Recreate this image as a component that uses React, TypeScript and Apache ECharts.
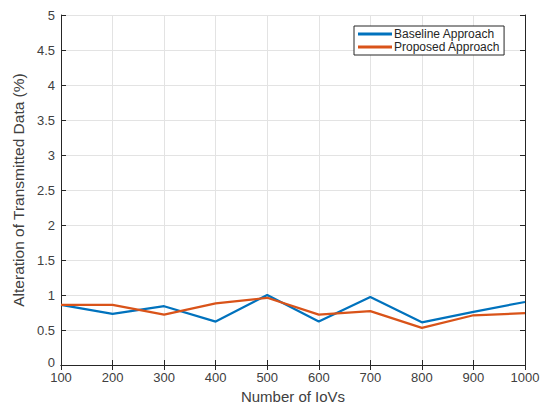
import React, { useEffect, useRef } from "react";
import * as echarts from "echarts";

const xValues = [100, 200, 300, 400, 500, 600, 700, 800, 900, 1000];
const baseline = [0.86, 0.73, 0.84, 0.62, 1.0, 0.62, 0.97, 0.61, 0.76, 0.9];
const proposed = [0.86, 0.86, 0.72, 0.88, 0.96, 0.72, 0.77, 0.53, 0.71, 0.74];
const seriesNames = ["Baseline Approach", "Proposed Approach"];

const FONT = "Liberation Sans, Arial, Helvetica, sans-serif";

export default function App() {
  const ref = useRef<HTMLDivElement>(null);
  useEffect(() => {
    const chart = echarts.init(ref.current!, null, { renderer: "svg" });
    const pair = (ys: number[]) => xValues.map((x, i) => [x, ys[i]]);
    const axisLine = { show: true, lineStyle: { color: "#262626", width: 1 } };
    const tick = { show: true, inside: true, length: 5, lineStyle: { color: "#262626" } };
    chart.setOption({
      animation: false,
      backgroundColor: "#ffffff",
      grid: {
        left: 61,
        right: 17,
        top: 15,
        bottom: 37,
        containLabel: false,
        outerBoundsMode: "none",
      },
      legend: {
        orient: "vertical",
        left: 354,
        top: 26,
        itemWidth: 34,
        itemHeight: 3,
        itemGap: 1,
        padding: [2, 4, 2, 4],
        borderColor: "#262626",
        borderWidth: 1,
        backgroundColor: "#ffffff",
        icon: "rect",
        textStyle: { fontFamily: FONT, fontSize: 12, color: "#262626", padding: [0, 0, 0, -3] },
        data: seriesNames,
      },
      xAxis: [
        {
          type: "value",
          min: 100,
          max: 1000,
          interval: 100,
          name: "Number of IoVs",
          nameLocation: "middle",
          nameGap: 14,
          nameTextStyle: { fontFamily: FONT, fontSize: 15, color: "#404040" },
          axisLine,
          axisTick: tick,
          axisLabel: {
            fontFamily: FONT,
            fontSize: 13,
            color: "#404040",
            margin: 6,
            formatter: (v: number) => String(v),
          },
          splitLine: { show: true, lineStyle: { color: "#e3e3e3", width: 1 } },
        },
        {
          type: "value",
          position: "top",
          min: 100,
          max: 1000,
          interval: 100,
          axisLine,
          axisTick: tick,
          axisLabel: { show: false },
          splitLine: { show: false },
        },
      ],
      yAxis: [
        {
          type: "value",
          min: 0,
          max: 5,
          interval: 0.5,
          name: "Alteration of Transmitted Data (%)",
          nameLocation: "middle",
          nameGap: 34,
          nameTextStyle: { fontFamily: FONT, fontSize: 15.5, color: "#404040" },
          axisLine,
          axisTick: tick,
          axisLabel: {
            fontFamily: FONT,
            fontSize: 13,
            color: "#404040",
            margin: 6,
            formatter: (v: number) => (v === 0 ? "{z|0}" : String(v)),
            rich: {
              z: {
                fontFamily: FONT,
                fontSize: 13,
                color: "#404040",
                padding: [0, 0, 6, 0],
              },
            },
          },
          splitLine: { show: true, lineStyle: { color: "#e3e3e3", width: 1 } },
        },
        {
          type: "value",
          position: "right",
          min: 0,
          max: 5,
          interval: 0.5,
          axisLine,
          axisTick: tick,
          axisLabel: { show: false },
          splitLine: { show: false },
        },
      ],
      series: [
        {
          name: seriesNames[0],
          type: "line",
          data: pair(baseline),
          showSymbol: false,
          symbol: "none",
          color: "#0072BD",
          lineStyle: { width: 2.2, color: "#0072BD" },
        },
        {
          name: seriesNames[1],
          type: "line",
          data: pair(proposed),
          showSymbol: false,
          symbol: "none",
          color: "#D95319",
          lineStyle: { width: 2.2, color: "#D95319" },
        },
      ],
    });
    return () => chart.dispose();
  }, []);
  return (
    <div
      ref={ref}
      style={{ position: "absolute", left: 0, top: 0, width: 542, height: 402 }}
    />
  );
}
